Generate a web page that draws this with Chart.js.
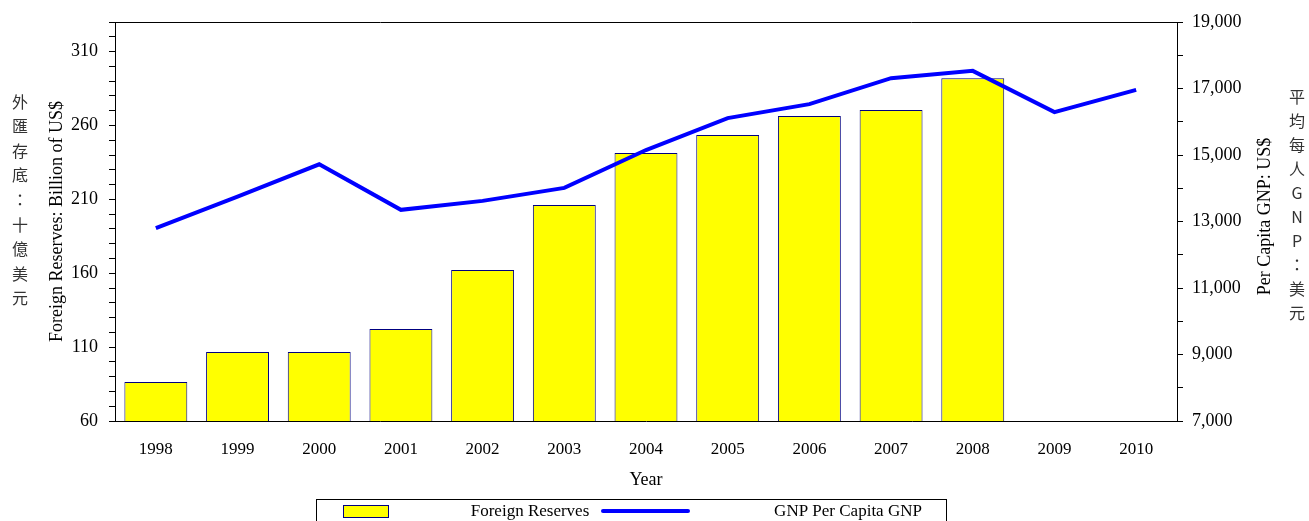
<!DOCTYPE html>
<html>
<head>
<meta charset="utf-8">
<script src="https://cdn.jsdelivr.net/npm/chart.js@4"></script>
<style>
html,body{margin:0;padding:0;background:#fff}
#wrap{position:relative;width:1309px;height:521px}
</style>
</head>
<body>
<div id="wrap"><canvas id="c"></canvas></div>
<script>
// data
var years=['1998','1999','2000','2001','2002','2003','2004','2005','2006','2007','2008','2009','2010'];
var reserves=[86.4,106.7,106.7,122.2,162.2,206.1,241.3,253.5,266.4,270.4,292.0,null,null];
var gnp=[12800,13750,14720,13350,13620,14010,15150,16110,16530,17310,17530,16290,16960];
var leftTitleZh='外匯存底：十億美元';
var rightTitleZh='平均每人GNP：美元';
var rightTitle='Per Capita GNP: US$';

var SERIF="'Liberation Serif','Times New Roman',serif";
Chart.defaults.font.family=SERIF;
Chart.defaults.color='#000';

// top border of the plot frame
var framePlugin={
    id:'frame',
    afterDraw:function(ch){
        var a=ch.chartArea,ctx=ch.ctx;
        ctx.save();ctx.strokeStyle='#000';ctx.lineWidth=1;
        ctx.beginPath();ctx.moveTo(a.left,a.top+0.5);ctx.lineTo(a.right,a.top+0.5);ctx.stroke();
        ctx.restore();
    }
};

// axis captions: stacked chinese + right english title reading upward
var captionPlugin={
    id:'captions',
    afterDraw:function(ch){
        var ctx=ch.ctx,a=ch.chartArea;
        ctx.save();
        ctx.fillStyle='#333';ctx.font="16px 'Noto Sans CJK TC',sans-serif";
        ctx.textAlign='center';ctx.textBaseline='middle';
        function col(txt,x,cy,step){
            var chars=Array.from(txt),y0=cy-(chars.length-1)*step/2;
            chars.forEach(function(c,i){ctx.fillText(c,x,y0+i*step)});
        }
        col(leftTitleZh,20,200,24.6);
        col(rightTitleZh,1297,205,24);
        ctx.fillStyle='#000';ctx.font='18px '+SERIF;
        ctx.translate(1265,(a.top+a.bottom)/2-5);ctx.rotate(-Math.PI/2);
        ctx.fillText(rightTitle,0,0);
        ctx.restore();
    }
};

// boxed legend under the axis
var legendPlugin={
    id:'boxLegend',
    afterDraw:function(ch){
        var ctx=ch.ctx,ds=ch.data.datasets;
        ctx.save();
        ctx.strokeStyle='#000';ctx.lineWidth=1;
        ctx.strokeRect(316.5,499.5,630,30);
        ctx.fillStyle=ds[0].backgroundColor;ctx.fillRect(343,505,45,12);
        ctx.strokeStyle=ds[0].borderColor;ctx.strokeRect(343.5,505.5,45,12);
        ctx.strokeStyle=ds[1].borderColor;ctx.lineWidth=4;ctx.lineCap='round';
        ctx.beginPath();ctx.moveTo(603,511);ctx.lineTo(688,511);ctx.stroke();
        ctx.fillStyle='#000';ctx.font='17px '+SERIF;ctx.textAlign='center';ctx.textBaseline='middle';
        ctx.fillText(ds[0].label,530,512);
        ctx.fillText(ds[1].label,848,512);
        ctx.restore();
    }
};

new Chart(document.getElementById('c').getContext('2d'),{
    type:'bar',
    data:{labels:years,datasets:[
        {label:'Foreign Reserves',data:reserves,yAxisID:'y',backgroundColor:'#ffff00',borderColor:'#000080',borderWidth:1,categoryPercentage:1,barPercentage:0.77,order:2},
        {label:'GNP Per Capita GNP',data:gnp,type:'line',yAxisID:'y2',borderColor:'#0000ff',borderWidth:4,pointRadius:0,tension:0,fill:false,order:1}
    ]},
    options:{
        responsive:true,maintainAspectRatio:false,animation:false,
        layout:{padding:{top:22,bottom:30,left:0,right:0}},
        plugins:{legend:{display:false},tooltip:{enabled:false}},
        scales:{
            x:{
                offset:true,grid:{display:false},border:{display:true,color:'#000',width:1},
                ticks:{font:{size:17},padding:10,maxRotation:0,autoSkip:false},
                title:{display:true,text:'Year',font:{size:18},padding:{top:0,bottom:0}},
                afterFit:function(s){s.height=70}
            },
            y:{
                position:'left',min:60,max:330,
                grid:{drawOnChartArea:false,tickLength:6,color:'#000'},border:{color:'#000',width:1},
                ticks:{stepSize:10,autoSkip:false,font:{size:18},padding:11,callback:function(v){return (v-60)%50===0?v:''}},
                title:{display:true,text:'Foreign Reserves: Billion of US$',font:{size:18},padding:{top:46}},
                afterFit:function(s){s.width=115}
            },
            y2:{
                position:'right',min:7000,max:19000,
                grid:{drawOnChartArea:false,tickLength:6,color:'#000'},border:{color:'#000',width:1},
                ticks:{stepSize:1000,autoSkip:false,font:{size:18},padding:9,callback:function(v){return v%2000===1000?v.toLocaleString('en-US'):''}},
                afterFit:function(s){s.width=132}
            }
        }
    },
    plugins:[framePlugin,captionPlugin,legendPlugin]
});
</script>
</body>
</html>
